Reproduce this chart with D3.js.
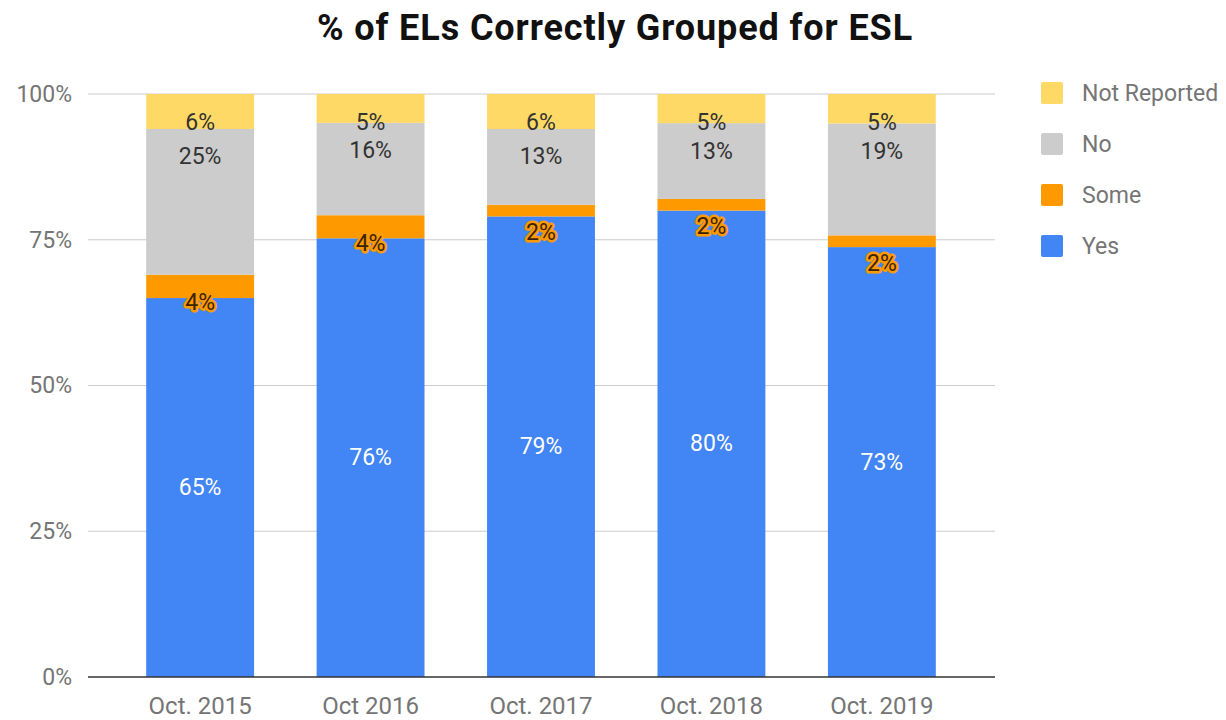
<!DOCTYPE html>
<meta charset="utf-8">
<script src="https://d3js.org/d3.v7.min.js"></script>
<style>
  body { margin: 0; background: #fff; }
  text { font-family: Roboto, "Noto Sans", sans-serif; }
</style>
<div id="chart"></div>
<script>

var years      = ["Oct. 2015", "Oct 2016", "Oct. 2017", "Oct. 2018", "Oct. 2019"];
var seriesKeys = ["Yes", "Some", "No", "Not Reported"];
var yesVals    = [65, 76, 79, 80, 73];
var someVals   = [4, 4, 2, 2, 2];
var noVals     = [25, 16, 13, 13, 19];
var nrVals     = [6, 5, 6, 5, 5];
var yTicks     = [0, 0.25, 0.5, 0.75, 1];

var colors = { "Yes": "#4285f4", "Some": "#ff9900", "No": "#cccccc", "Not Reported": "#ffd966" };

var rows = years.map(function(y, i) {
  return { year: y, "Yes": yesVals[i], "Some": someVals[i], "No": noVals[i], "Not Reported": nrVals[i] };
});

var W = 1226, H = 720;
var plot = { left: 88, right: 995, top: 94, bottom: 677 };

var svg = d3.select("#chart").append("svg")
    .attr("width", W)
    .attr("height", H);

var x = d3.scaleBand().domain(years).range([115, 967]).paddingInner(0.367).paddingOuter(0.183);
var y = d3.scaleLinear().domain([0, 1]).range([plot.bottom, plot.top]);

// stacked shares of each total
var stacked = d3.stack().keys(seriesKeys).offset(d3.stackOffsetExpand)(rows);

// grid lines
svg.append("g").selectAll("line")
  .data(yTicks.filter(function(t) { return t > 0; }))
  .enter().append("line")
    .attr("x1", plot.left).attr("x2", plot.right)
    .attr("y1", function(d) { return y(d); })
    .attr("y2", function(d) { return y(d); })
    .attr("stroke", "#cccccc")
    .attr("stroke-width", 1.2);

// y axis labels
var yAxis = d3.axisLeft(y).tickValues(yTicks).tickFormat(d3.format(".0%")).tickSize(0).tickPadding(16);
svg.append("g")
    .attr("transform", "translate(" + plot.left + ",0)")
    .call(yAxis)
    .call(function(g) { g.select(".domain").remove(); })
    .selectAll("text")
      .style("font-size", "23px")
      .attr("fill", "#757575");

// bars
var layer = svg.selectAll(".layer")
  .data(stacked)
  .enter().append("g")
    .attr("class", "layer")
    .attr("fill", function(d) { return colors[d.key]; });

layer.selectAll("rect")
  .data(function(d) { return d; })
  .enter().append("rect")
    .attr("x", function(d) { return x(d.data.year); })
    .attr("width", x.bandwidth())
    .attr("y", function(d) { return y(d[1]); })
    .attr("height", function(d) { return y(d[0]) - y(d[1]); });

// baseline
svg.append("line")
    .attr("x1", plot.left).attr("x2", plot.right)
    .attr("y1", plot.bottom).attr("y2", plot.bottom)
    .attr("stroke", "#333333")
    .attr("stroke-width", 1.5);

// x axis labels
var xAxis = d3.axisBottom(x).tickSize(0).tickPadding(20);
svg.append("g")
    .attr("transform", "translate(0," + plot.bottom + ")")
    .call(xAxis)
    .call(function(g) { g.select(".domain").remove(); })
    .selectAll("text")
      .style("font-size", "24px")
      .attr("fill", "#757575");

// value labels
stacked.forEach(function(s) {
  var lab = svg.append("g").selectAll("text")
    .data(s)
    .enter().append("text")
      .attr("x", function(d) { return x(d.data.year) + x.bandwidth() / 2; })
      .attr("y", function(d) {
        if (s.key === "Yes") return (y(d[0]) + y(d[1])) / 2;
        return y(d[1]) + 28;
      })
      .attr("text-anchor", "middle")
      .attr("dominant-baseline", "central")
      .style("font-size", "23px")
      .text(function(d) { return d.data[s.key] + "%"; });

  if (s.key === "Yes") {
    lab.attr("fill", "#ffffff");
  } else if (s.key === "Some") {
    lab.attr("fill", "#3a2400")
       .attr("stroke", "#ff9900")
       .attr("stroke-width", 5)
       .attr("stroke-linejoin", "round")
       .attr("paint-order", "stroke");
  } else {
    lab.attr("fill", "#333333");
  }
});

// title
svg.append("text")
    .attr("x", 615)
    .attr("y", 40)
    .attr("text-anchor", "middle")
    .style("font-size", "36px")
    .style("font-weight", "bold")
    .style("letter-spacing", "0.9px")
    .attr("fill", "#111111")
    .text("% of ELs Correctly Grouped for ESL");

// legend
var legend = svg.selectAll(".legend")
  .data(seriesKeys.slice().reverse())
  .enter().append("g")
    .attr("class", "legend")
    .attr("transform", function(d, i) { return "translate(1041," + (93 + i * 51) + ")"; });

legend.append("rect")
    .attr("y", -11)
    .attr("width", 22)
    .attr("height", 22)
    .attr("rx", 2)
    .attr("fill", function(d) { return colors[d]; });

legend.append("text")
    .attr("x", 41)
    .attr("dominant-baseline", "central")
    .style("font-size", "23px")
    .attr("fill", "#757575")
    .text(function(d) { return d; });

</script>
